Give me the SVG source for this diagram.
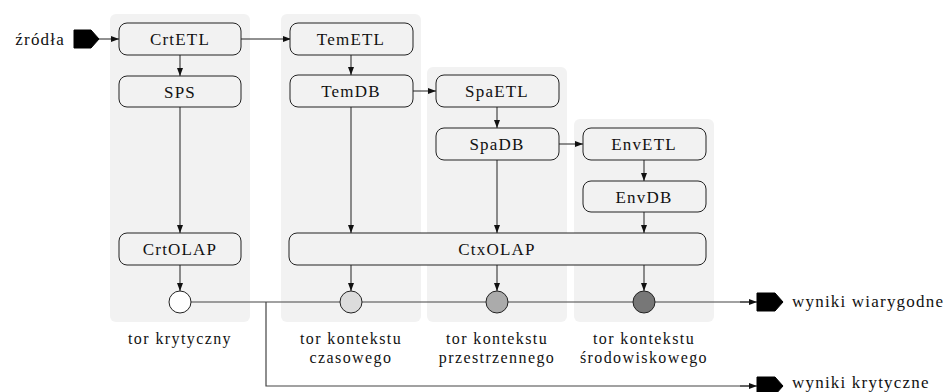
<svg xmlns="http://www.w3.org/2000/svg" width="952" height="392" viewBox="0 0 952 392">
  <defs>
    <style>
      .lane { fill: #f2f2f2; }
      .node rect { fill: #f2f2f2; stroke: #222; stroke-width: 1; }
      text { font-family: 'Liberation Serif', 'Times New Roman', serif; font-size: 17px; letter-spacing: 1.2px; fill: #111; text-anchor: middle; }
      .cap { font-size: 16px; letter-spacing: 1.4px; }
      .start { text-anchor: start; }
      .end { text-anchor: end; }
      .edge { fill: none; stroke: #222; stroke-width: 1; marker-end: url(#arr); }
      .bus { fill: none; stroke: #444; stroke-width: 1.2; }
      .tag { fill: #000; stroke: #000; stroke-width: 1; stroke-linejoin: round; }
      .dot { stroke: #222; stroke-width: 1; }
    </style>
    <marker id="arr" viewBox="0 0 8 6" refX="8" refY="3" markerWidth="8" markerHeight="6" markerUnits="userSpaceOnUse" orient="auto">
      <path d="M0,0 L8,3 L0,6 Z" fill="#111"/>
    </marker>
  </defs>

  <!-- lane backgrounds -->
  <g id="lanes">
    <rect class="lane" x="110" y="14" width="140" height="308" rx="6"/>
    <rect class="lane" x="281" y="14" width="140" height="308" rx="6"/>
    <rect class="lane" x="427" y="67" width="140" height="255" rx="6"/>
    <rect class="lane" x="574" y="119" width="140" height="203" rx="6"/>
  </g>

  <!-- connectors -->
  <g id="connectors">
    <path class="edge" d="M99,39 H119"/>
    <path class="edge" d="M241,39 H291"/>
    <path class="edge" d="M180,55 V76"/>
    <path class="edge" d="M180,107 V233"/>
    <path class="edge" d="M180,265 V291"/>
    <path class="edge" d="M351,55 V75"/>
    <path class="edge" d="M351,107 V233"/>
    <path class="edge" d="M413,91 H436"/>
    <path class="edge" d="M497,107 V128"/>
    <path class="edge" d="M497,160 V233"/>
    <path class="edge" d="M559,144 H583"/>
    <path class="edge" d="M644,160 V181"/>
    <path class="edge" d="M644,212 V233"/>
    <path class="edge" d="M351,265 V291"/>
    <path class="edge" d="M497,265 V291"/>
    <path class="edge" d="M644,265 V291"/>
    <path class="bus" d="M191,302 H751"/>
    <path class="edge" d="M740,302 H757"/>
    <path class="bus" d="M266,302 V386 H751"/>
    <path class="edge" d="M740,386 H757"/>
  </g>

  <!-- source / sink tags -->
  <g id="src">
    <path class="tag" d="M74,30 H91 L99,39 L91,48 H74 Z"/>
    <text class="end" x="65" y="45">źródła</text>
  </g>
  <g id="out-reliable">
    <path class="tag" d="M757,293 H775 L783,302 L775,311 H757 Z"/>
    <text class="start" x="792" y="307">wyniki wiarygodne</text>
  </g>
  <g id="out-critical">
    <path class="tag" d="M757,377 H775 L783,386 L775,395 H757 Z"/>
    <text class="start" x="792" y="388">wyniki krytyczne</text>
  </g>

  <!-- processing nodes -->
  <g id="CrtETL" class="node"><rect x="119" y="23" width="122" height="32" rx="8"/><text x="180" y="45">CrtETL</text></g>
  <g id="SPS" class="node"><rect x="119" y="76" width="122" height="31" rx="8"/><text x="180" y="98">SPS</text></g>
  <g id="CrtOLAP" class="node"><rect x="119" y="233" width="122" height="32" rx="8"/><text x="180" y="255">CrtOLAP</text></g>
  <g id="TemETL" class="node"><rect x="290" y="23" width="123" height="32" rx="8"/><text x="351" y="45">TemETL</text></g>
  <g id="TemDB" class="node"><rect x="290" y="75" width="123" height="32" rx="8"/><text x="351" y="97">TemDB</text></g>
  <g id="SpaETL" class="node"><rect x="436" y="75" width="123" height="32" rx="8"/><text x="497" y="97">SpaETL</text></g>
  <g id="SpaDB" class="node"><rect x="436" y="128" width="123" height="32" rx="8"/><text x="497" y="150">SpaDB</text></g>
  <g id="EnvETL" class="node"><rect x="583" y="128" width="123" height="32" rx="8"/><text x="644" y="150">EnvETL</text></g>
  <g id="EnvDB" class="node"><rect x="583" y="181" width="123" height="31" rx="8"/><text x="644" y="203">EnvDB</text></g>
  <g id="CtxOLAP" class="node"><rect x="289" y="233" width="417" height="32" rx="8"/><text x="497" y="255">CtxOLAP</text></g>

  <!-- merge points -->
  <g id="m-crt"><circle class="dot" cx="180" cy="302" r="11" fill="#ffffff"/></g>
  <g id="m-tem"><circle class="dot" cx="351" cy="302" r="11" fill="#dcdcdc"/></g>
  <g id="m-spa"><circle class="dot" cx="497" cy="302" r="11" fill="#ababab"/></g>
  <g id="m-env"><circle class="dot" cx="644" cy="302" r="11" fill="#777777"/></g>

  <!-- lane captions -->
  <g id="captions">
    <text class="cap" x="180" y="344">tor krytyczny</text>
    <text class="cap" x="351" y="344">tor kontekstu</text>
    <text class="cap" x="351" y="363">czasowego</text>
    <text class="cap" x="497" y="344">tor kontekstu</text>
    <text class="cap" x="497" y="363">przestrzennego</text>
    <text class="cap" x="644" y="344">tor kontekstu</text>
    <text class="cap" x="644" y="363">środowiskowego</text>
  </g>
</svg>
